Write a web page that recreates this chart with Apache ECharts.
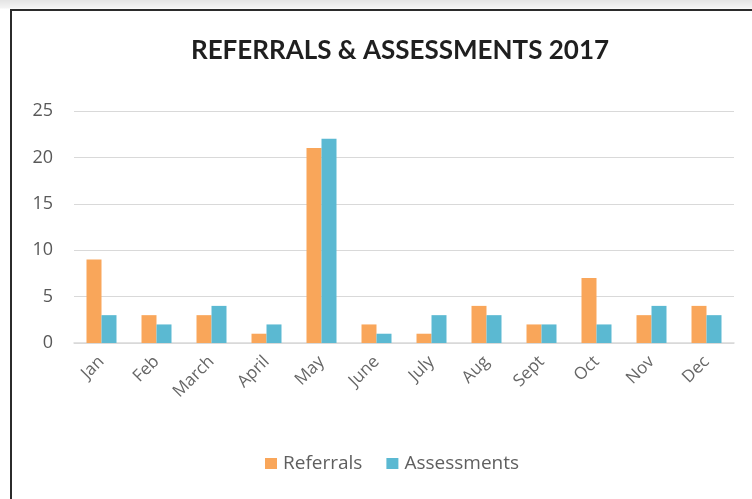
<!DOCTYPE html>
<html>
<head>
<meta charset="utf-8">
<script src="https://cdn.jsdelivr.net/npm/echarts@6/dist/echarts.min.js"></script>
<style>
  html, body { margin: 0; padding: 0; }
  body {
    width: 752px; height: 499px; overflow: hidden; position: relative;
    background: linear-gradient(to bottom, #e4e4e4 0px, #f4f4f4 8px, #fff 9px);
  }
  #frame {
    position: absolute; left: 10px; top: 9px; width: 760px; height: 510px;
    border-top: 2px solid #2b2b2b; border-left: 2px solid #2b2b2b;
    background: #fff;
  }
  #chart { position: absolute; left: 0; top: 0; width: 752px; height: 499px; }
</style>
</head>
<body>
<div id="frame"></div>
<div id="chart"></div>
<script>
// data
var months = ["Jan", "Feb", "March", "April", "May", "June", "July", "Aug", "Sept", "Oct", "Nov", "Dec"];
var referrals = [9, 3, 3, 1, 21, 2, 1, 4, 2, 7, 3, 4];
var assessments = [3, 2, 4, 2, 22, 1, 3, 3, 2, 2, 4, 3];
var yTicks = [0, 5, 10, 15, 20, 25];

var chart = echarts.init(document.getElementById("chart"));

var option = {
  animation: false,
  title: {
    text: "REFERRALS & ASSESSMENTS 2017",
    left: 395,
    textAlign: "center",
    top: 33,
    textStyle: { fontFamily: "Lato", fontWeight: "bold", fontSize: 26, color: "#1f1f1f" }
  },
  legend: {
    data: ["Referrals", "Assessments"],
    left: 265,
    top: 454,
    padding: 0,
    itemWidth: 12,
    itemHeight: 11,
    itemGap: 24,
    icon: "rect",
    textStyle: { fontFamily: "Open Sans", fontSize: 19, color: "#5f5f5f", padding: [0, 0, 0, 1] }
  },
  grid: { left: 74, right: 18, top: 111, bottom: 156 },
  xAxis: {
    type: "category",
    data: months,
    axisLine: { lineStyle: { color: "#d9d9d9", width: 1.5 } },
    axisTick: { show: false },
    axisLabel: {
      rotate: 45,
      margin: 16,
      fontFamily: "Open Sans",
      fontSize: 17,
      color: "#666666"
    }
  },
  yAxis: {
    type: "value",
    min: yTicks[0],
    max: yTicks[yTicks.length - 1],
    interval: 5,
    axisLine: { show: false },
    axisTick: { show: false },
    splitLine: { lineStyle: { color: "#d9d9d9", width: 1 } },
    axisLabel: { margin: 21, fontFamily: "Open Sans", fontSize: 18, color: "#595959" }
  },
  series: [
    {
      name: "Referrals",
      type: "bar",
      data: referrals,
      barWidth: 15,
      barGap: "0%",
      itemStyle: { color: "#f9a65a" }
    },
    {
      name: "Assessments",
      type: "bar",
      data: assessments,
      barWidth: 15,
      barGap: "0%",
      itemStyle: { color: "#5bb9d2" }
    }
  ]
};

chart.setOption(option);
</script>
</body>
</html>
